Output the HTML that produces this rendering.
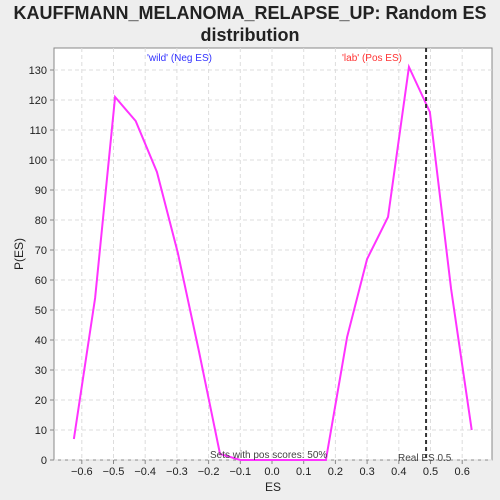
<!DOCTYPE html>
<html><head><meta charset="utf-8"><style>
body{margin:0;background:#eeeeee;}
svg{display:block;font-family:"Liberation Sans",sans-serif;}
</style></head><body>
<svg id="chart" width="500" height="500">
<rect width="500" height="500" fill="#eeeeee"/>
<text x="250" y="19" text-anchor="middle" font-size="18" font-weight="bold" fill="#222">KAUFFMANN_MELANOMA_RELAPSE_UP: Random ES</text>
<text x="250" y="41" text-anchor="middle" font-size="18" font-weight="bold" fill="#222">distribution</text>
<rect x="54" y="48" width="438" height="412" fill="#fff" stroke="#888"/>
<g id="grid"></g>
<g id="axes"></g>
<g id="series"></g>
<text x="147" y="61" font-size="10" fill="#3333ff">'wild' (Neg ES)</text>
<text x="342" y="61" font-size="10" fill="#ff3333">'lab' (Pos ES)</text>
<text x="210" y="458" font-size="10" fill="#444">Sets with pos scores: 50%</text>
<text x="398" y="461" font-size="10" fill="#444">Real ES 0.5</text>
<text x="273" y="491" text-anchor="middle" font-size="12" fill="#222">ES</text>
<text x="23" y="254" text-anchor="middle" font-size="12" fill="#222" transform="rotate(-90 23 254)">P(ES)</text>
</svg>
<script>
const esValues=[-0.625,-0.558,-0.495,-0.43,-0.363,-0.297,-0.23,-0.164,-0.1,-0.03,0.03,0.1,0.17,0.237,0.30,0.366,0.432,0.498,0.565,0.63];
const probValues=[7,54,121,113,96,69,36,2,0,0,0,0,0,41,67,81,131,116,57,10];
const xTicks=[-0.6,-0.5,-0.4,-0.3,-0.2,-0.1,0.0,0.1,0.2,0.3,0.4,0.5,0.6];
const yTicks=[0,10,20,30,40,50,60,70,80,90,100,110,120,130];
const realES=[0.486];
const NS='http://www.w3.org/2000/svg';
const X=v=>272+v*317;
const Y=v=>460-v*3;
function mk(t,a,p){const e=document.createElementNS(NS,t);for(const k in a)e.setAttribute(k,a[k]);p.appendChild(e);return e;}
const grid=document.getElementById('grid'),axes=document.getElementById('axes'),ser=document.getElementById('series');
xTicks.forEach(t=>{
 const g=mk('line',{x1:X(t),x2:X(t),y1:48,y2:460,stroke:'#ddd','stroke-dasharray':'4,3'},grid);
 
 
 const tk=mk('line',{x1:X(t),x2:X(t),y1:460,y2:464,stroke:'#888'},axes);
 
 
 const l=mk('text',{x:X(t),y:475,'text-anchor':'middle','font-size':11,fill:'#222'},axes);
 l.textContent=(t<0?'\u2212':'')+Math.abs(t).toFixed(1);
 
 
});
yTicks.forEach(t=>{
 const g=mk('line',{x1:54,x2:492,y1:Y(t),y2:Y(t),stroke:'#ddd','stroke-dasharray':'4,3'},grid);
 
 
 const tk=mk('line',{x1:50,x2:54,y1:Y(t),y2:Y(t),stroke:'#888'},axes);
 
 
 const l=mk('text',{x:47,y:Y(t)+4,'text-anchor':'end','font-size':11,fill:'#222'},axes);
 l.textContent=t;
 
 
});
const line=mk('polyline',{points:esValues.map((v,i)=>X(v)+','+Y(probValues[i])).join(' '),fill:'none',stroke:'#ff33ff','stroke-width':2},ser);


const rl=mk('line',{x1:X(realES[0]),x2:X(realES[0]),y1:48,y2:460,stroke:'#333','stroke-width':2,'stroke-dasharray':'4,3'},ser);


</script>
</body></html>
